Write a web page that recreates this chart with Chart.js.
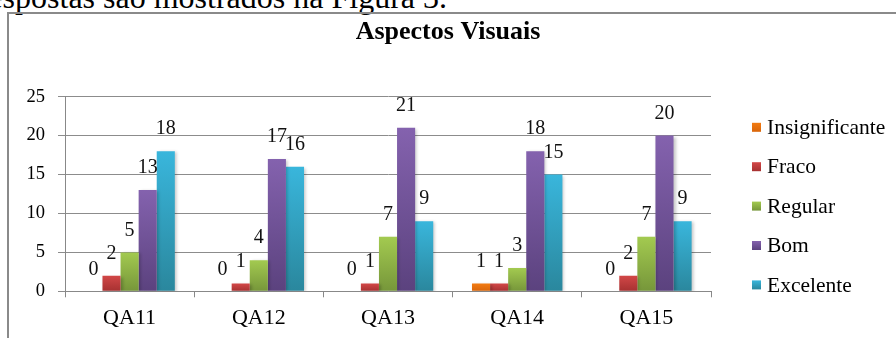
<!DOCTYPE html>
<html lang="pt">
<head>
<meta charset="utf-8">
<script src="https://cdn.jsdelivr.net/npm/chart.js@4.4.1/dist/chart.umd.min.js"></script>
<style>
  html, body { margin: 0; padding: 0; background: #fff; }
  body { width: 896px; height: 338px; position: relative; overflow: hidden; }
  #lead {
    position: absolute; right: 449px; top: -19px;
    font: 32px/32px "Liberation Serif", "Times New Roman", serif;
    white-space: nowrap; color: #000;
  }
  #frame {
    position: absolute; left: 7px; top: 12px; width: 900px; height: 400px;
    border-left: 2px solid #8a8a8a; border-top: 2px solid #8a8a8a;
  }
  #c { position: absolute; left: 0; top: 0; }
</style>
</head>
<body>
<div id="lead">respostas são mostrados na Figura 3.</div>
<div id="frame"></div>
<canvas id="c" width="896" height="338"></canvas>
<script>
// Questions on the x axis
const categories = ['QA11', 'QA12', 'QA13', 'QA14', 'QA15'];

// Number of answers per rating
const insignificante = [0, 0, 0, 1, 0];
const fraco          = [2, 1, 1, 1, 2];
const regular        = [5, 4, 7, 3, 7];
const bom            = [13, 17, 21, 18, 20];
const excelente      = [18, 16, 9, 15, 9];

const seriesNames = ['Insignificante', 'Fraco', 'Regular', 'Bom', 'Excelente'];
const seriesValues = [insignificante, fraco, regular, bom, excelente];

// Light (top) and dark (bottom) shade of each series
const palette = [
  ['#F27B12', '#D9650A'],
  ['#D24747', '#A63131'],
  ['#A3CA50', '#76963A'],
  ['#8462AE', '#5B427E'],
  ['#39B6DC', '#2A879D']
];

const SERIF = "'Liberation Serif', 'Times New Roman', serif";
Chart.defaults.font.family = SERIF;

function barGradient(i) {
  return (ctx) => {
    const chart = ctx.chart;
    const area = chart.chartArea;
    const y = chart.scales && chart.scales.y;
    if (!area || !y || ctx.raw === undefined) return palette[i][0];
    const top = y.getPixelForValue(ctx.raw);
    const bottom = y.getPixelForValue(0);
    if (bottom - top < 1) return palette[i][0];
    const g = chart.ctx.createLinearGradient(0, top, 0, bottom);
    g.addColorStop(0, palette[i][0]);
    g.addColorStop(1, palette[i][1]);
    return g;
  };
}

// Soft shadow behind the bars
const barShadow = {
  id: 'barShadow',
  beforeDatasetsDraw(chart) {
    const c = chart.ctx;
    c.save();
    c.shadowColor = 'rgba(0,0,0,0.22)';
    c.shadowBlur = 3;
    c.shadowOffsetX = 2;
    c.shadowOffsetY = 1;
  },
  afterDatasetsDraw(chart) { chart.ctx.restore(); }
};

// Value written above every bar
const valueLabels = {
  id: 'valueLabels',
  afterDatasetsDraw(chart) {
    const c = chart.ctx;
    c.save();
    c.font = '20px ' + SERIF;
    c.fillStyle = '#111';
    c.textAlign = 'center';
    c.textBaseline = 'middle';
    chart.data.datasets.forEach((ds, i) => {
      chart.getDatasetMeta(i).data.forEach((bar, j) => {
        c.fillText(String(ds.data[j]), bar.x, bar.y - 22);
      });
    });
    c.restore();
  }
};

// Vertical key to the right of the plot
const sideLegend = {
  id: 'sideLegend',
  afterDraw(chart) {
    const c = chart.ctx;
    const x0 = chart.chartArea.right + 41;
    const yStart = 127.3;
    const step = 39.4;
    c.save();
    c.font = '21.5px ' + SERIF;
    c.textAlign = 'left';
    c.textBaseline = 'middle';
    chart.data.datasets.forEach((ds, i) => {
      const y = yStart + i * step;
      const g = c.createLinearGradient(0, y - 4.5, 0, y + 4.5);
      g.addColorStop(0, palette[i][0]);
      g.addColorStop(1, palette[i][1]);
      c.fillStyle = g;
      c.fillRect(x0, y - 4.5, 9, 9);
      c.fillStyle = '#000';
      c.fillText(ds.label, x0 + 15, y + 1);
    });
    c.restore();
  }
};

function build() {
  new Chart(document.getElementById('c'), {
    type: 'bar',
    data: {
      labels: categories,
      datasets: seriesNames.map((name, i) => ({
        label: name,
        data: seriesValues[i],
        backgroundColor: barGradient(i),
        borderWidth: 0,
        categoryPercentage: 0.7,
        barPercentage: 1.0
      }))
    },
    options: {
      responsive: false,
      animation: false,
      layout: { padding: 0 },
      plugins: {
        legend: { display: false },
        tooltip: { enabled: false },
        title: {
          display: true,
          text: 'Aspectos Visuais',
          color: '#000',
          font: { family: SERIF, size: 26, weight: 'bold', lineHeight: 1.2 },
          padding: { top: 17, bottom: 48.5 }
        }
      },
      scales: {
        x: {
          grid: { offset: true, drawOnChartArea: false, tickLength: 6, color: '#888' },
          border: { color: '#888' },
          ticks: { color: '#000', font: { family: SERIF, size: 22 }, padding: 8 },
          afterFit(s) { s.height = 46.7; }
        },
        y: {
          min: 0, max: 25,
          grid: { color: '#8c8c8c', tickLength: 7 },
          border: { color: '#888' },
          ticks: { stepSize: 5, color: '#000', font: { family: SERIF, size: 18.5 }, padding: 13 },
          afterFit(s) { s.width = 65; }
        },
        yR: {
          type: 'linear',
          position: 'right',
          grid: { display: false },
          border: { display: false },
          ticks: { display: false },
          afterFit(s) { s.width = 185; }
        }
      }
    },
    plugins: [barShadow, valueLabels, sideLegend]
  });
}

Promise.all([
  document.fonts.load("20px 'Liberation Serif'"),
  document.fonts.load("bold 26px 'Liberation Serif'")
]).then(build, build);
</script>
</body>
</html>
